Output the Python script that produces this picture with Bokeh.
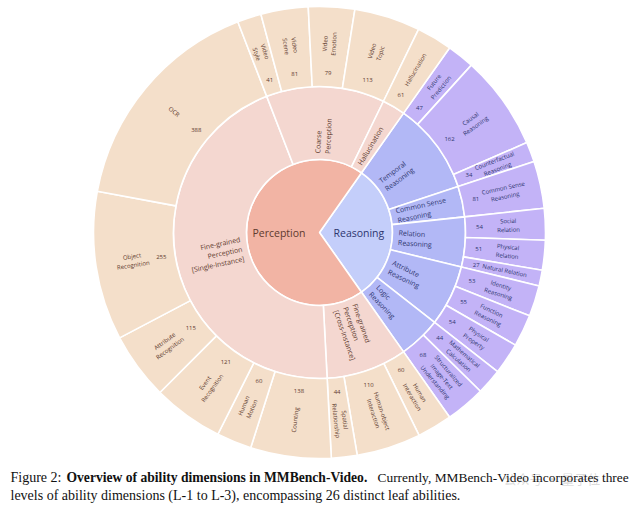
import math
from bokeh.plotting import figure
from bokeh.models import Range1d
from bokeh.core.properties import value
from bokeh.embed import file_html
from bokeh.resources import INLINE

# ---------------- data ----------------
level1 = ["Reasoning", "Perception"]
level2 = ["Temporal\nReasoning", "Common Sense\nReasoning", "Relation\nReasoning",
          "Attribute\nReasoning", "Logic\nReasoning",
          "Fine-grained\nPerception\n[Cross-Instance]",
          "Fine-grained\nPerception\n[Single-Instance]",
          "Coarse\nPerception", "Hallucination"]
level2_parent = [0, 0, 0, 0, 0, 1, 1, 1, 1]
leaf_names = ["Future\nPrediction", "Causal\nReasoning", "Counterfactual\nReasoning",
              "Common Sense\nReasoning",
              "Social\nRelation", "Physical\nRelation", "Natural Relation",
              "Identity\nReasoning", "Function\nReasoning", "Physical\nProperty",
              "Mathematical\nCalculation", "Structuralized\nImage-Text\nUnderstanding",
              "Human\nInteraction", "Human-object\nInteraction", "Spatial\nRelationship",
              "Counting", "Human\nMotion", "Event\nRecognition", "Attribute\nRecognition",
              "Object\nRecognition", "OCR",
              "Video\nStyle", "Video\nScene", "Video\nEmotion", "Video\nTopic",
              "Hallucination"]
leaf_values = [47, 162, 34, 81, 54, 51, 27, 53, 55, 54, 44, 68,
               60, 110, 44, 138, 60, 121, 115, 255, 388, 41, 81, 79, 113, 61]
leaf_parent = [0, 0, 0, 1, 2, 2, 2, 3, 3, 3, 4, 4,
               5, 5, 5, 6, 6, 6, 6, 6, 6, 7, 7, 7, 7, 8]

# ---------------- styling ----------------
inner_col = ["#C4CEFA", "#F2B4A4"]
mid_col = ["#B2B8F6", "#F4D7D0"]
outer_col = ["#C3B3F7", "#F4DFCA"]
text_col = ["#2E3670", "#5E3A2E"]
FONT = "Open Sans"

W, H = 640, 508
CX, CY = 319, -232
R1, R2, R3 = 73, 146, 226

p = figure(width=W, height=H, output_backend="svg", toolbar_location=None,
           x_range=Range1d(0, W), y_range=Range1d(-H, 0),
           x_axis_location=None, y_axis_location=None, min_border=0)
p.grid.visible = False
p.outline_line_color = None
p.background_fill_color = "white"

total = float(sum(leaf_values))
l2_vals = [0] * len(level2)
for v, par in zip(leaf_values, leaf_parent):
    l2_vals[par] += v
l1_vals = [0] * len(level1)
for v, par in zip(l2_vals, level2_parent):
    l1_vals[par] += v

# clockwise-from-top angle; Reasoning centred on the right
theta0 = 90.0 - l1_vals[0] / total * 180.0


def spans(vals):
    out, t = [], theta0
    for v in vals:
        d = v / total * 360.0
        out.append((t, t + d))
        t += d
    return out


def std(theta):
    return math.radians(90.0 - theta)


def ring(vals, colors, r_in, r_out):
    sp = spans(vals)
    for (a, b), c in zip(sp, colors):
        p.annular_wedge(x=CX, y=CY, inner_radius=r_in, outer_radius=r_out,
                        start_angle=std(b), end_angle=std(a),
                        fill_color=c, line_color="white", line_width=1.6)
    return sp


l1_sp = spans(l1_vals)
for (a, b), c in zip(l1_sp, inner_col):
    p.wedge(x=CX, y=CY, radius=R1, start_angle=std(b), end_angle=std(a),
            fill_color=c, line_color="white", line_width=1.6)
l2_sp = ring(l2_vals, [mid_col[level2_parent[i]] for i in range(len(level2))], R1, R2)
l3_sp = ring(leaf_values, [outer_col[level2_parent[leaf_parent[i]]] for i in range(len(leaf_values))], R2, R3)


def radial(theta):
    phi = 90.0 - theta
    phi = (phi + 360.0) % 360.0
    right = math.cos(math.radians(phi)) >= 0
    rot = phi if right else phi + 180.0
    return math.radians(rot), right


def pos(theta, r):
    t = math.radians(theta)
    return CX + r * math.sin(t), CY + r * math.cos(t)


# inner labels
for i, (a, b) in enumerate(l1_sp):
    m = (a + b) / 2
    x, y = pos(m, 14)
    _, right = radial(m)
    p.text(x=[x], y=[y], text=[level1[i]], text_align="left" if right else "right",
           text_baseline="middle", text_font=value(FONT), text_font_size="10.5px",
           text_color=text_col[i])

# middle labels
for i, (a, b) in enumerate(l2_sp):
    m = (a + b) / 2
    rot, right = radial(m)
    x, y = pos(m, 79)
    p.text(x=[x], y=[y], text=[level2[i]], angle=rot,
           text_align="left" if right else "right", text_baseline="middle",
           text_font=value(FONT), text_font_size="7px", text_line_height=1.1,
           text_color=text_col[level2_parent[i]])

# leaf labels and values
for i, (a, b) in enumerate(l3_sp):
    m = (a + b) / 2
    rot, right = radial(m)
    col = text_col[level2_parent[leaf_parent[i]]]
    x, y = pos(m, 189)
    p.text(x=[x], y=[y], text=[leaf_names[i]], angle=rot,
           text_align="center", text_baseline="middle",
           text_font=value(FONT), text_font_size="6px", text_line_height=1.1,
           text_color=col)
    x, y = pos(m, 160)
    p.text(x=[x], y=[y], text=[str(leaf_values[i])],
           text_align="center", text_baseline="middle",
           text_font=value(FONT), text_font_size="6px", text_color=col)

# watermark (drawn first, behind caption)
p.text(x=[503], y=[-478], text=["公众号 · 量子位"], text_font=value("Noto Sans CJK SC"),
       text_font_size="13px", text_baseline="middle", text_color="#999999", text_alpha=0.35)

# caption
cap_font = value("Liberation Serif")
p.text(x=[10], y=[-477], text=["Figure 2:"], text_font=cap_font, text_font_size="14px",
       text_baseline="middle", text_color="#111111")
p.text(x=[66], y=[-477], text=["Overview of ability dimensions in MMBench-Video."],
       text_font=cap_font, text_font_size="13.6px", text_font_style="bold",
       text_baseline="middle", text_color="#111111")
p.text(x=[377], y=[-477], text=["Currently, MMBench-Video incorporates three"],
       text_font=cap_font, text_font_size="13.4px", text_baseline="middle", text_color="#111111")
p.text(x=[10], y=[-495],
       text=["levels of ability dimensions (L-1 to L-3), encompassing 26 distinct leaf abilities."],
       text_font=cap_font, text_font_size="14px", text_baseline="middle", text_color="#111111")

open("out.html", "w").write(file_html(p, INLINE))
